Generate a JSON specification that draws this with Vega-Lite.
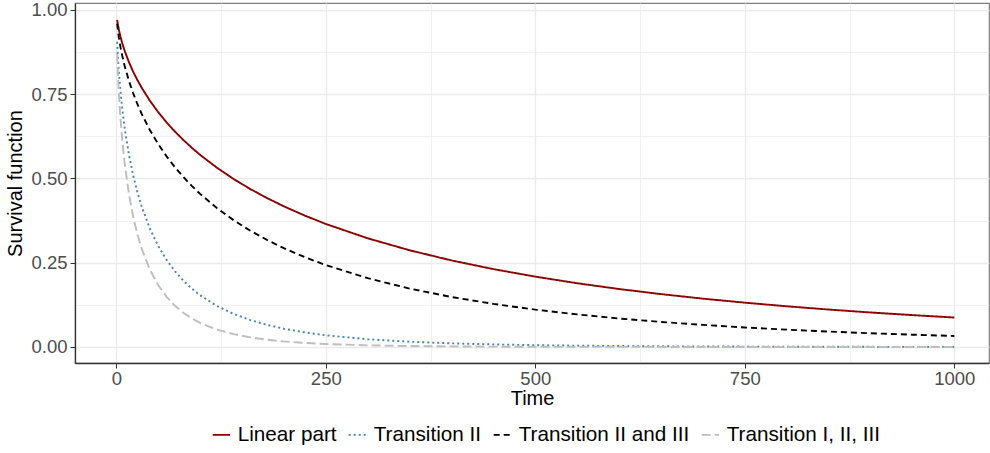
{
  "$schema": "https://vega.github.io/schema/vega-lite/v6.json",
  "width": 914,
  "height": 360,
  "autosize": {"type": "none"},
  "padding": {"left": 75, "top": 3, "right": 1, "bottom": 90},
  "background": "white",
  "config": {
    "font": "Liberation Sans",
    "view": {"stroke": "#7f7f7f", "strokeWidth": 1.2},
    "axis": {"labelFont": "Liberation Sans", "titleFont": "Liberation Sans"}
  },
  "data": {"values": [
    {"t":1,"s":0.9705,"g":"Linear part"},{"t":2,"s":0.9546,"g":"Linear part"},{"t":3,"s":0.9416,"g":"Linear part"},{"t":5,"s":0.9200,"g":"Linear part"},{"t":7,"s":0.9018,"g":"Linear part"},{"t":10,"s":0.8784,"g":"Linear part"},{"t":15,"s":0.8454,"g":"Linear part"},{"t":20,"s":0.8173,"g":"Linear part"},{"t":25,"s":0.7926,"g":"Linear part"},{"t":30,"s":0.7702,"g":"Linear part"},{"t":40,"s":0.7308,"g":"Linear part"},{"t":50,"s":0.6966,"g":"Linear part"},{"t":60,"s":0.6663,"g":"Linear part"},{"t":70,"s":0.6390,"g":"Linear part"},{"t":80,"s":0.6141,"g":"Linear part"},{"t":90,"s":0.5912,"g":"Linear part"},{"t":100,"s":0.5700,"g":"Linear part"},{"t":120,"s":0.5319,"g":"Linear part"},{"t":140,"s":0.4983,"g":"Linear part"},{"t":160,"s":0.4684,"g":"Linear part"},{"t":180,"s":0.4416,"g":"Linear part"},{"t":200,"s":0.4172,"g":"Linear part"},{"t":225,"s":0.3897,"g":"Linear part"},{"t":250,"s":0.3650,"g":"Linear part"},{"t":300,"s":0.3225,"g":"Linear part"},{"t":350,"s":0.2869,"g":"Linear part"},{"t":400,"s":0.2568,"g":"Linear part"},{"t":450,"s":0.2310,"g":"Linear part"},{"t":500,"s":0.2087,"g":"Linear part"},{"t":550,"s":0.1891,"g":"Linear part"},{"t":600,"s":0.1720,"g":"Linear part"},{"t":650,"s":0.1569,"g":"Linear part"},{"t":700,"s":0.1434,"g":"Linear part"},{"t":750,"s":0.1315,"g":"Linear part"},{"t":800,"s":0.1208,"g":"Linear part"},{"t":850,"s":0.1111,"g":"Linear part"},{"t":900,"s":0.1024,"g":"Linear part"},{"t":950,"s":0.0946,"g":"Linear part"},{"t":1000,"s":0.0874,"g":"Linear part"},
    {"t":1,"s":0.9051,"g":"Transition II"},{"t":2,"s":0.8564,"g":"Transition II"},{"t":3,"s":0.8181,"g":"Transition II"},{"t":5,"s":0.7573,"g":"Transition II"},{"t":7,"s":0.7086,"g":"Transition II"},{"t":10,"s":0.6490,"g":"Transition II"},{"t":15,"s":0.5713,"g":"Transition II"},{"t":20,"s":0.5105,"g":"Transition II"},{"t":25,"s":0.4607,"g":"Transition II"},{"t":30,"s":0.4187,"g":"Transition II"},{"t":40,"s":0.3515,"g":"Transition II"},{"t":50,"s":0.2997,"g":"Transition II"},{"t":60,"s":0.2583,"g":"Transition II"},{"t":70,"s":0.2246,"g":"Transition II"},{"t":80,"s":0.1967,"g":"Transition II"},{"t":90,"s":0.1733,"g":"Transition II"},{"t":100,"s":0.1535,"g":"Transition II"},{"t":120,"s":0.1218,"g":"Transition II"},{"t":140,"s":0.0981,"g":"Transition II"},{"t":160,"s":0.0798,"g":"Transition II"},{"t":180,"s":0.0655,"g":"Transition II"},{"t":200,"s":0.0542,"g":"Transition II"},{"t":225,"s":0.0432,"g":"Transition II"},{"t":250,"s":0.0347,"g":"Transition II"},{"t":300,"s":0.0230,"g":"Transition II"},{"t":350,"s":0.0156,"g":"Transition II"},{"t":400,"s":0.0108,"g":"Transition II"},{"t":450,"s":0.0076,"g":"Transition II"},{"t":500,"s":0.0054,"g":"Transition II"},{"t":550,"s":0.0039,"g":"Transition II"},{"t":600,"s":0.0028,"g":"Transition II"},{"t":650,"s":0.0021,"g":"Transition II"},{"t":700,"s":0.0015,"g":"Transition II"},{"t":750,"s":0.0012,"g":"Transition II"},{"t":800,"s":0.0009,"g":"Transition II"},{"t":850,"s":0.0007,"g":"Transition II"},{"t":900,"s":0.0005,"g":"Transition II"},{"t":950,"s":0.0004,"g":"Transition II"},{"t":1000,"s":0.0003,"g":"Transition II"},
    {"t":1,"s":0.9589,"g":"Transition II and III"},{"t":2,"s":0.9368,"g":"Transition II and III"},{"t":3,"s":0.9189,"g":"Transition II and III"},{"t":5,"s":0.8895,"g":"Transition II and III"},{"t":7,"s":0.8650,"g":"Transition II and III"},{"t":10,"s":0.8336,"g":"Transition II and III"},{"t":15,"s":0.7900,"g":"Transition II and III"},{"t":20,"s":0.7534,"g":"Transition II and III"},{"t":25,"s":0.7216,"g":"Transition II and III"},{"t":30,"s":0.6931,"g":"Transition II and III"},{"t":40,"s":0.6438,"g":"Transition II and III"},{"t":50,"s":0.6020,"g":"Transition II and III"},{"t":60,"s":0.5655,"g":"Transition II and III"},{"t":70,"s":0.5332,"g":"Transition II and III"},{"t":80,"s":0.5043,"g":"Transition II and III"},{"t":90,"s":0.4781,"g":"Transition II and III"},{"t":100,"s":0.4542,"g":"Transition II and III"},{"t":120,"s":0.4122,"g":"Transition II and III"},{"t":140,"s":0.3761,"g":"Transition II and III"},{"t":160,"s":0.3448,"g":"Transition II and III"},{"t":180,"s":0.3174,"g":"Transition II and III"},{"t":200,"s":0.2931,"g":"Transition II and III"},{"t":225,"s":0.2663,"g":"Transition II and III"},{"t":250,"s":0.2430,"g":"Transition II and III"},{"t":300,"s":0.2041,"g":"Transition II and III"},{"t":350,"s":0.1733,"g":"Transition II and III"},{"t":400,"s":0.1483,"g":"Transition II and III"},{"t":450,"s":0.1278,"g":"Transition II and III"},{"t":500,"s":0.1108,"g":"Transition II and III"},{"t":550,"s":0.0966,"g":"Transition II and III"},{"t":600,"s":0.0845,"g":"Transition II and III"},{"t":650,"s":0.0743,"g":"Transition II and III"},{"t":700,"s":0.0655,"g":"Transition II and III"},{"t":750,"s":0.0579,"g":"Transition II and III"},{"t":800,"s":0.0514,"g":"Transition II and III"},{"t":850,"s":0.0457,"g":"Transition II and III"},{"t":900,"s":0.0408,"g":"Transition II and III"},{"t":950,"s":0.0365,"g":"Transition II and III"},{"t":1000,"s":0.0327,"g":"Transition II and III"},
    {"t":1,"s":0.8690,"g":"Transition I, II, III"},{"t":2,"s":0.8039,"g":"Transition I, II, III"},{"t":3,"s":0.7537,"g":"Transition I, II, III"},{"t":5,"s":0.6761,"g":"Transition I, II, III"},{"t":7,"s":0.6157,"g":"Transition I, II, III"},{"t":10,"s":0.5441,"g":"Transition I, II, III"},{"t":15,"s":0.4547,"g":"Transition I, II, III"},{"t":20,"s":0.3880,"g":"Transition I, II, III"},{"t":25,"s":0.3359,"g":"Transition I, II, III"},{"t":30,"s":0.2936,"g":"Transition I, II, III"},{"t":40,"s":0.2295,"g":"Transition I, II, III"},{"t":50,"s":0.1833,"g":"Transition I, II, III"},{"t":60,"s":0.1487,"g":"Transition I, II, III"},{"t":70,"s":0.1222,"g":"Transition I, II, III"},{"t":80,"s":0.1014,"g":"Transition I, II, III"},{"t":90,"s":0.0848,"g":"Transition I, II, III"},{"t":100,"s":0.0714,"g":"Transition I, II, III"},{"t":120,"s":0.0516,"g":"Transition I, II, III"},{"t":140,"s":0.0380,"g":"Transition I, II, III"},{"t":160,"s":0.0284,"g":"Transition I, II, III"},{"t":180,"s":0.0215,"g":"Transition I, II, III"},{"t":200,"s":0.0165,"g":"Transition I, II, III"},{"t":225,"s":0.0120,"g":"Transition I, II, III"},{"t":250,"s":0.0088,"g":"Transition I, II, III"},{"t":300,"s":0.0049,"g":"Transition I, II, III"},{"t":350,"s":0.0028,"g":"Transition I, II, III"},{"t":400,"s":0.0017,"g":"Transition I, II, III"},{"t":450,"s":0.0010,"g":"Transition I, II, III"},{"t":500,"s":0.0006,"g":"Transition I, II, III"},{"t":550,"s":0.0004,"g":"Transition I, II, III"},{"t":600,"s":0.0003,"g":"Transition I, II, III"},{"t":650,"s":0.0002,"g":"Transition I, II, III"},{"t":700,"s":0.0001,"g":"Transition I, II, III"},{"t":750,"s":0.0001,"g":"Transition I, II, III"},{"t":800,"s":0.0001,"g":"Transition I, II, III"},{"t":850,"s":0.0000,"g":"Transition I, II, III"},{"t":900,"s":0.0000,"g":"Transition I, II, III"},{"t":950,"s":0.0000,"g":"Transition I, II, III"},{"t":1000,"s":0.0000,"g":"Transition I, II, III"}
  ]},
  "mark": {"type": "line", "strokeWidth": 1.9, "clip": true},
  "encoding": {
    "x": {
      "field": "t", "type": "quantitative",
      "scale": {"domain": [-49.3, 1041.4], "nice": false, "zero": false},
      "axis": {
        "title": "Time", "titleFontSize": 20, "titleColor": "black", "titleFontWeight": "normal", "titlePadding": 1,
        "values": [0, 125, 250, 375, 500, 625, 750, 875, 1000],
        "labelExpr": "datum.value % 250 === 0 ? format(datum.value, 'd') : ''",
        "labelFontSize": 18.5, "labelColor": "#4D4D4D", "labelPadding": 1,
        "tickSize": 5, "tickColor": "#333333",
        "tickOpacity": {"condition": {"test": "datum.value % 250 !== 0", "value": 0}, "value": 1},
        "domainColor": "#333333", "domainWidth": 1.3,
        "grid": true, "gridColor": "#EBEBEB",
        "gridWidth": {"condition": {"test": "datum.value % 250 !== 0", "value": 0.7}, "value": 1.3}
      }
    },
    "y": {
      "field": "s", "type": "quantitative",
      "scale": {"domain": [-0.0475, 1.0205], "nice": false, "zero": false},
      "axis": {
        "title": "Survival function", "titleFontSize": 20, "titleColor": "black", "titleFontWeight": "normal", "titlePadding": 5,
        "values": [0, 0.125, 0.25, 0.375, 0.5, 0.625, 0.75, 0.875, 1],
        "labelExpr": "(datum.value * 1000) % 250 === 0 ? format(datum.value, '.2f') : ''",
        "labelFontSize": 18.5, "labelColor": "#4D4D4D", "labelPadding": 3,
        "tickSize": 5, "tickColor": "#333333",
        "tickOpacity": {"condition": {"test": "(datum.value * 1000) % 250 !== 0", "value": 0}, "value": 1},
        "domainColor": "#333333", "domainWidth": 1.3,
        "grid": true, "gridColor": "#EBEBEB",
        "gridWidth": {"condition": {"test": "(datum.value * 1000) % 250 !== 0", "value": 0.7}, "value": 1.3}
      }
    },
    "color": {
      "field": "g", "type": "nominal",
      "scale": {"domain": ["Linear part", "Transition II", "Transition II and III", "Transition I, II, III"], "range": ["#8B0000", "#4682B4", "#000000", "#BEBEBE"]},
      "legend": {
        "title": null, "orient": "none", "direction": "horizontal", "columns": 4,
        "legendX": 136, "legendY": 421,
        "symbolType": "stroke", "symbolSize": 300, "symbolStrokeWidth": 1.9,
        "labelFontSize": 20.7, "labelColor": "black", "labelOffset": 6, "columnPadding": 7,
        "labelLimit": 400
      }
    },
    "strokeDash": {
      "field": "g", "type": "nominal",
      "scale": {"domain": ["Linear part", "Transition II", "Transition II and III", "Transition I, II, III"], "range": [[1, 0], [2, 3], [6, 4], [9, 4]]},
      "legend": null
    }
  }
}
